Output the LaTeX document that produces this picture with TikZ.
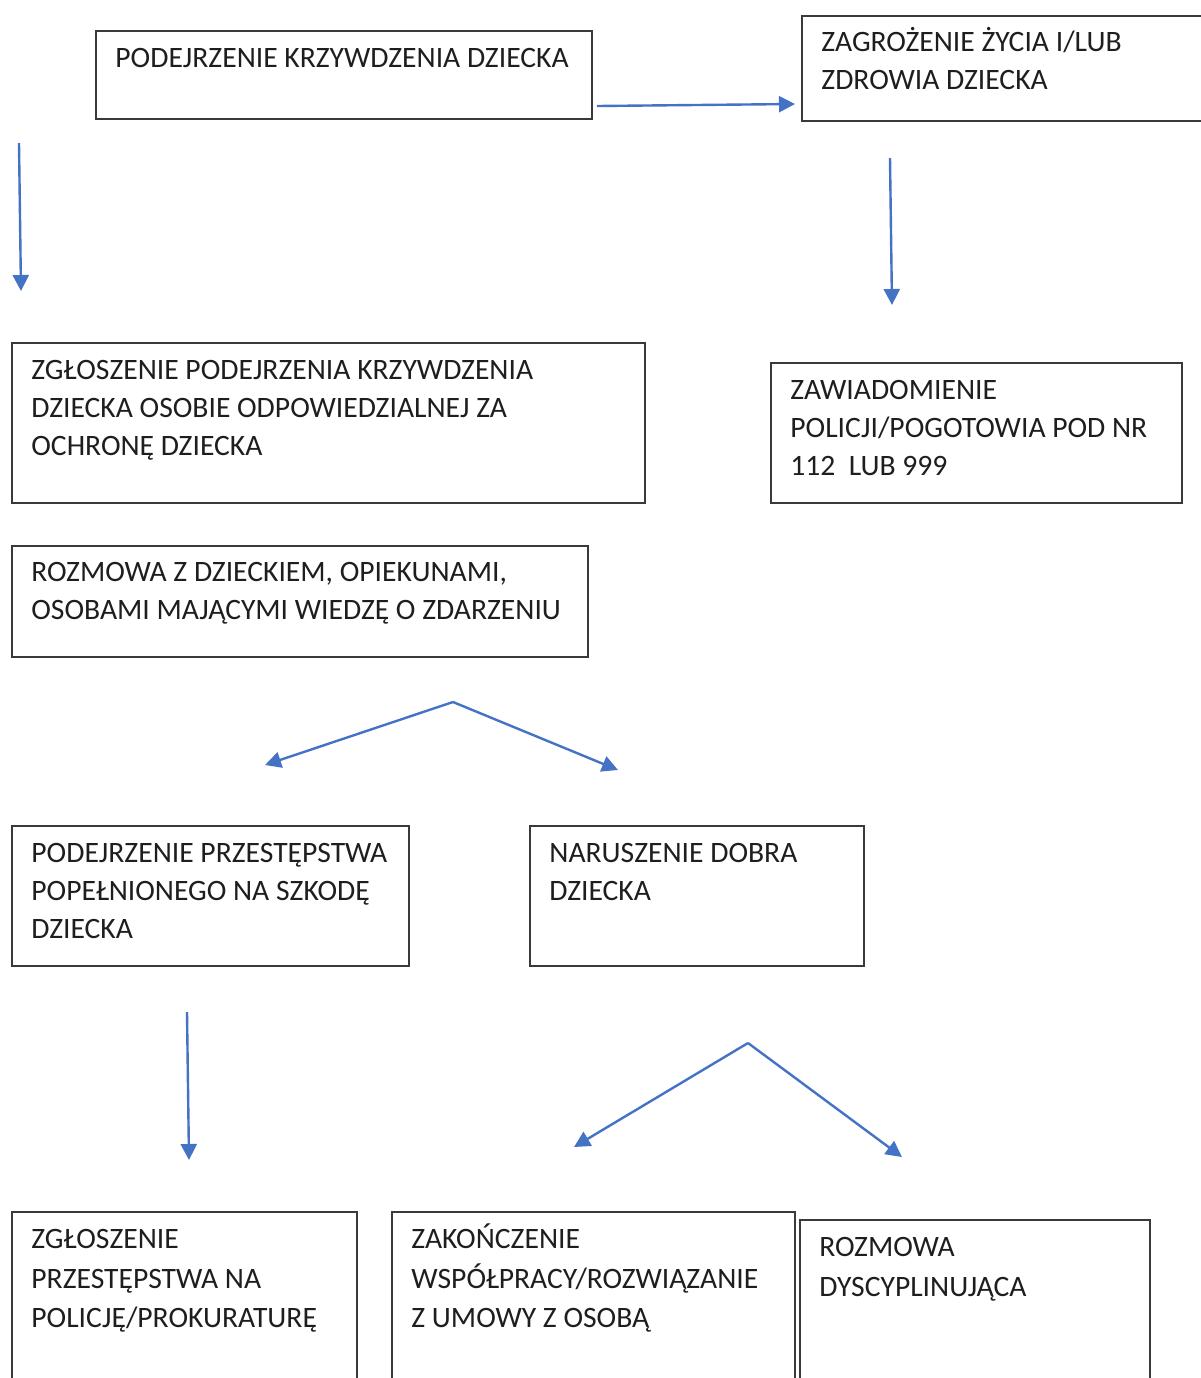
\documentclass[tikz,border=0pt]{standalone}
\usepackage{fontspec}
\setmainfont{Carlito}
\usetikzlibrary{arrows.meta}
\definecolor{arrowblue}{HTML}{4472C4}
\definecolor{boxline}{HTML}{3A3A3A}
\definecolor{txt}{HTML}{1E1E1E}
\newcommand{\fs}{\rule{0pt}{14pt}}
\begin{document}
\begin{tikzpicture}[x=0.5pt,y=-0.5pt,
  box/.style={draw=boxline,line width=1.1pt,fill=white,rectangle,inner sep=0pt,anchor=north west},
  lbl/.style={anchor=north west,align=left,inner sep=0pt,text=txt,font=\fontsize{14.8}{19}\selectfont},
  lblwide/.style={lbl,font=\fontsize{14.8}{19.8}\selectfont},
  arr/.style={draw=arrowblue,line width=1.2pt,-{Triangle[length=8pt,width=8pt]}}]
\useasboundingbox (0,0) rectangle (1201,1378);
\clip (0,0) rectangle (1201,1378);
% boxes
\node[box,minimum width=248pt,minimum height=44pt] (b1) at (95,30) {};
\node[box,minimum width=202pt,minimum height=52.5pt] (b2) at (801,15) {};
\node[box,minimum width=316.5pt,minimum height=80pt] (b3) at (11,342) {};
\node[box,minimum width=205.5pt,minimum height=70pt] (b4) at (770,362) {};
\node[box,minimum width=288pt,minimum height=55.5pt] (b5) at (11,545) {};
\node[box,minimum width=198.5pt,minimum height=70pt] (b6) at (11,825) {};
\node[box,minimum width=167pt,minimum height=70pt] (b7) at (529,825) {};
\node[box,minimum width=172.5pt,minimum height=94.5pt] (b8) at (11,1211) {};
\node[box,minimum width=201.5pt,minimum height=94.5pt] (b9) at (391,1211) {};
\node[box,minimum width=175pt,minimum height=90.5pt] (b10) at (799,1219) {};
% texts (y = first baseline - 28)
\node[lbl] (t1) at (115,39) {\fs PODEJRZENIE KRZYWDZENIA DZIECKA};
\node[lbl] (t2) at (821,23) {\fs ZAGROŻENIE ŻYCIA I/LUB\\ZDROWIA DZIECKA};
\node[lbl] (t3) at (31,351) {\fs ZGŁOSZENIE PODEJRZENIA KRZYWDZENIA\\DZIECKA OSOBIE ODPOWIEDZIALNEJ ZA\\OCHRONĘ DZIECKA};
\node[lbl] (t4) at (790,371) {\fs ZAWIADOMIENIE\\POLICJI/POGOTOWIA POD NR\\112\ \ LUB 999};
\node[lbl] (t5) at (31,553) {\fs ROZMOWA Z DZIECKIEM, OPIEKUNAMI,\\OSOBAMI MAJĄCYMI WIEDZĘ O ZDARZENIU};
\node[lbl] (t6) at (31,834) {\fs PODEJRZENIE PRZESTĘPSTWA\\POPEŁNIONEGO NA SZKODĘ\\DZIECKA};
\node[lbl] (t7) at (549,834) {\fs NARUSZENIE DOBRA\\DZIECKA};
\node[lblwide] (t8) at (31,1220) {\fs ZGŁOSZENIE\\PRZESTĘPSTWA NA\\POLICJĘ/PROKURATURĘ};
\node[lblwide] (t9) at (411,1220) {\fs ZAKOŃCZENIE\\WSPÓŁPRACY/ROZWIĄZANIE\\Z UMOWY Z OSOBĄ};
\node[lblwide] (t10) at (819,1228) {\fs ROZMOWA\\DYSCYPLINUJĄCA};
% arrow coordinates
\coordinate (a1s) at (597,106); \coordinate (a1e) at (795,104);
\coordinate (a2s) at (19,143);  \coordinate (a2e) at (21,291);
\coordinate (a3s) at (890,158); \coordinate (a3e) at (892,305);
\coordinate (a4s) at (453,702); \coordinate (a4l) at (265,765); \coordinate (a4r) at (618,770);
\coordinate (a5s) at (187,1012); \coordinate (a5e) at (189,1160);
\coordinate (a6s) at (748,1043); \coordinate (a6l) at (574,1147); \coordinate (a6r) at (902,1157);
% arrows
\draw[arr] (a1s) -- (a1e);
\draw[arr] (a2s) -- (a2e);
\draw[arr] (a3s) -- (a3e);
\draw[arr] (a4s) -- (a4l);
\draw[arr] (a4s) -- (a4r);
\draw[arr] (a5s) -- (a5e);
\draw[arr] (a6s) -- (a6l);
\draw[arr] (a6s) -- (a6r);
\end{tikzpicture}
\end{document}
